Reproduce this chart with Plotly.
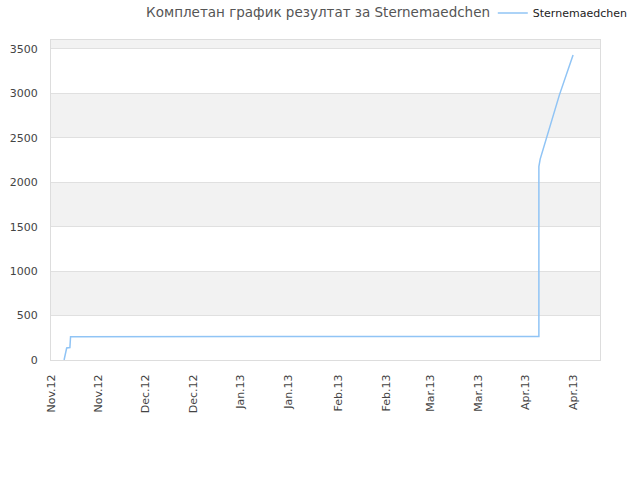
import plotly.graph_objects as go

# series
dates = [
    "2012-11-05 05:00", "2012-11-06 01:00", "2012-11-07 02:00", "2012-11-07 07:00",
    "2013-04-07 00:00", "2013-04-07 00:00", "2013-04-07 10:00", "2013-04-13 14:00",
    "2013-04-18 00:00",
]
points = [0, 135, 140, 262, 265, 2175, 2260, 2980, 3431]

# x ticks
tick_dates = [
    "2012-11-01", "2012-11-16 06:00", "2012-12-01 12:00", "2012-12-16 19:00",
    "2013-01-01 02:00", "2013-01-16 10:00", "2013-02-01 14:00", "2013-02-16 22:00",
    "2013-03-03 05:00", "2013-03-18 10:00", "2013-04-02 17:00", "2013-04-18 00:00",
]
tick_labels = [
    "Nov.12", "Nov.12", "Dec.12", "Dec.12", "Jan.13", "Jan.13",
    "Feb.13", "Feb.13", "Mar.13", "Mar.13", "Apr.13", "Apr.13",
]
y_ticks = [0, 500, 1000, 1500, 2000, 2500, 3000, 3500]
gray_bands = [(500, 1000), (1500, 2000), (2500, 3000), (3500, 3600)]

fig = go.Figure()
fig.add_trace(go.Scatter(
    x=dates, y=points, mode="lines", name="Sternemaedchen",
    line=dict(color="#90c4f5", width=1.5),
))

for lo, hi in gray_bands:
    fig.add_shape(type="rect", xref="paper", yref="y", x0=0, x1=1, y0=lo, y1=hi,
                  fillcolor="#f2f2f2", line_width=0, layer="below")

fig.update_layout(
    width=640, height=480,
    margin=dict(l=51, r=40, t=40, b=120, autoexpand=False),
    paper_bgcolor="white", plot_bgcolor="white",
    font=dict(family="DejaVu Sans", size=11, color="#444444"),
    title=dict(text="Комплетан график резултат за Sternemaedchen",
               x=0.497, xref="container", y=0.975, yanchor="middle",
               font=dict(size=13.5, color="#555555")),
    showlegend=True,
    legend=dict(x=0.77, xref="container", xanchor="left",
                y=0.973, yref="container", yanchor="middle",
                font=dict(size=11, color="#222222"), bgcolor="rgba(0,0,0,0)"),
)
fig.update_xaxes(
    type="date", range=["2012-11-01", "2013-04-26 16:00"],
    tickvals=tick_dates, ticktext=tick_labels, tickangle=-90,
    showgrid=False, showline=True, linecolor="#dddddd", mirror=True,
    ticks="", zeroline=False, automargin=False, ticklabelstandoff=9,
)
fig.update_yaxes(
    range=[0, 3600], tickvals=y_ticks,
    showgrid=True, gridcolor="#e0e0e0", gridwidth=1,
    showline=True, linecolor="#dddddd", mirror=True,
    ticks="", zeroline=False, automargin=False, ticklabelstandoff=10,
)

# drop the default page margin so the figure sits at the window's corner
fig.write_html("out.html", config={"displayModeBar": False},
               post_script="document.body.style.margin='0';")
